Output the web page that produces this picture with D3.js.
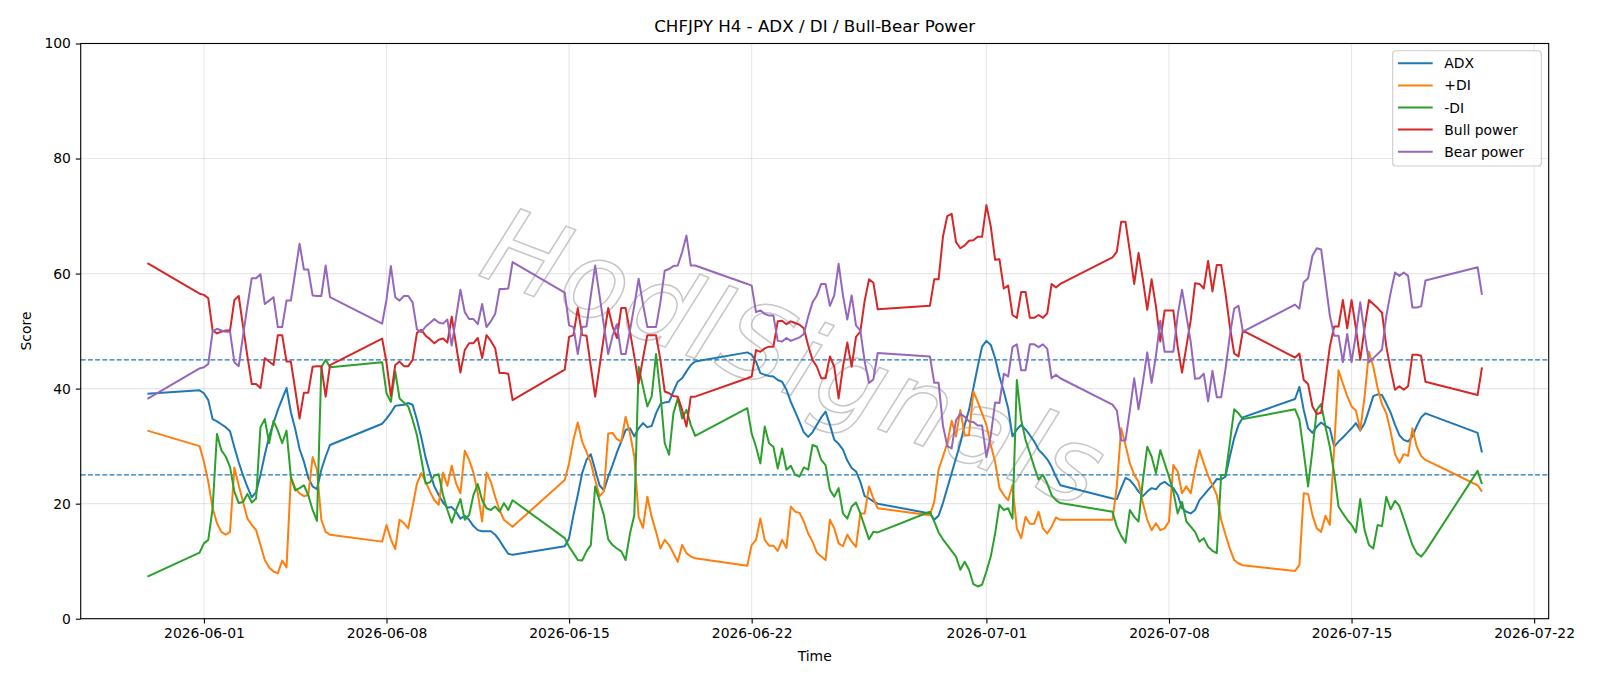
<!DOCTYPE html>
<html><head><meta charset="utf-8">
<script src="https://cdn.jsdelivr.net/npm/d3@7"></script>
<style>body{margin:0;background:#fff}svg{display:block;font-family:"DejaVu Sans",sans-serif}</style>
</head><body>
<svg id="c" width="1600" height="686"></svg>
<script>
// H4 bar times (UTC), Sunday 20:00 opens each trading week
const times = [
 "05-29 20",
 "05-31 20","06-01 00","06-01 04","06-01 08","06-01 12","06-01 16","06-01 20","06-02 00","06-02 04","06-02 08","06-02 12","06-02 16","06-02 20","06-03 00","06-03 04","06-03 08","06-03 12","06-03 16","06-03 20","06-04 00","06-04 04","06-04 08","06-04 12","06-04 16","06-04 20","06-05 00","06-05 04","06-05 08","06-05 12","06-05 16","06-05 20",
 "06-07 20","06-08 00","06-08 04","06-08 08","06-08 12","06-08 16","06-08 20","06-09 00","06-09 04","06-09 08","06-09 12","06-09 16","06-09 20","06-10 00","06-10 04","06-10 08","06-10 12","06-10 16","06-10 20","06-11 00","06-11 04","06-11 08","06-11 12","06-11 16","06-11 20","06-12 00","06-12 04","06-12 08","06-12 12","06-12 16","06-12 20",
 "06-14 20","06-15 00","06-15 04","06-15 08","06-15 12","06-15 16","06-15 20","06-16 00","06-16 04","06-16 08","06-16 12","06-16 16","06-16 20","06-17 00","06-17 04","06-17 08","06-17 12","06-17 16","06-17 20","06-18 00","06-18 04","06-18 08","06-18 12","06-18 16","06-18 20","06-19 00","06-19 04","06-19 08","06-19 12","06-19 16","06-19 20",
 "06-21 20","06-22 00","06-22 04","06-22 08","06-22 12","06-22 16","06-22 20","06-23 00","06-23 04","06-23 08","06-23 12","06-23 16","06-23 20","06-24 00","06-24 04","06-24 08","06-24 12","06-24 16","06-24 20","06-25 00","06-25 04","06-25 08","06-25 12","06-25 16","06-25 20","06-26 00","06-26 04","06-26 08","06-26 12","06-26 16","06-26 20",
 "06-28 20","06-29 00","06-29 04","06-29 08","06-29 12","06-29 16","06-29 20","06-30 00","06-30 04","06-30 08","06-30 12","06-30 16","06-30 20","07-01 00","07-01 04","07-01 08","07-01 12","07-01 16","07-01 20","07-02 00","07-02 04","07-02 08","07-02 12","07-02 16","07-02 20","07-03 00","07-03 04","07-03 08","07-03 12","07-03 16","07-03 20",
 "07-05 20","07-06 00","07-06 04","07-06 08","07-06 12","07-06 16","07-06 20","07-07 00","07-07 04","07-07 08","07-07 12","07-07 16","07-07 20","07-08 00","07-08 04","07-08 08","07-08 12","07-08 16","07-08 20","07-09 00","07-09 04","07-09 08","07-09 12","07-09 16","07-09 20","07-10 00","07-10 04","07-10 08","07-10 12","07-10 16","07-10 20",
 "07-12 20","07-13 00","07-13 04","07-13 08","07-13 12","07-13 16","07-13 20","07-14 00","07-14 04","07-14 08","07-14 12","07-14 16","07-14 20","07-15 00","07-15 04","07-15 08","07-15 12","07-15 16","07-15 20","07-16 00","07-16 04","07-16 08","07-16 12","07-16 16","07-16 20","07-17 00","07-17 04","07-17 08","07-17 12","07-17 16","07-17 20",
 "07-19 20","07-20 00"
];

const adx = [
 39.1,
 39.7, 39.2,38.0,34.7,34.3,33.8,33.3, 32.6,29.8,27.2,24.9,22.9,21.1, 22.0,25.0,28.5,31.7,34.0,36.3, 38.2,40.1,35.9,33.0,29.5,27.3, 24.5,23.0,22.5,25.9,28.2,30.2,
 33.9, 34.8,35.8,37.0,37.1,37.2,37.5, 37.2,34.6,31.5,28.0,25.3,23.0, 21.5,20.2,19.3,19.4,18.6,17.4, 17.9,17.2,16.1,15.4,15.2,15.2, 15.2,14.6,13.6,12.4,11.3,11.1,
 12.6, 14.0,18.0,21.5,25.3,27.6,28.6, 25.9,23.2,22.3,24.7,26.7,28.9, 30.8,32.8,33.1,31.7,33.1,34.0, 33.3,33.5,35.7,37.3,37.6,37.7, 39.5,41.2,41.8,43.0,44.1,44.7,
 46.3, 45.9,44.7,42.7,42.4,42.2,42.1, 41.5,41.2,39.8,37.7,36.0,34.2, 32.4,31.6,32.4,33.7,35.0,36.0, 33.7,31.1,30.4,29.4,27.5,26.2, 25.6,23.8,21.3,20.9,20.4,20.0,
 18.3, 17.2,17.9,20.1,22.7,25.3,27.9, 30.5,33.7,36.3,40.1,43.8,47.3, 48.3,47.6,45.3,42.1,39.5,36.6, 31.7,32.9,33.7,32.9,31.9,30.8, 29.4,28.6,27.7,26.4,24.7,23.2,
 20.9, 20.8,22.7,24.5,24.1,23.2,22.1, 21.3,22.1,22.7,22.5,23.4,23.8, 23.2,22.7,21.5,19.2,18.6,18.3, 18.9,20.6,21.5,22.4,23.2,24.3, 24.2,24.7,28.2,31.4,33.7,35.0,
 38.2, 40.3,36.3,33.1,32.3,33.4,34.1, 33.5,33.1,29.9,30.8,31.5,32.3, 33.1,34.0,32.7,34.0,36.3,38.7, 39.0,38.9,37.4,35.8,33.7,31.9, 31.1,30.8,31.7,33.5,35.0,35.7,
 32.3, 28.9
];

const plusDI = [
 32.7,
 30.0, 27.3,23.8,19.2,16.6,15.1,14.6, 15.1,26.3,23.2,20.3,17.4,16.3, 15.4,12.8,10.2,8.9,8.2,7.9, 10.1,8.9,24.6,22.7,21.8,21.3, 21.5,28.1,25.9,17.2,15.1,14.6,
 13.4, 16.3,13.8,12.1,17.2,16.6,15.7, 19.5,23.5,25.3,23.8,22.1,20.6, 19.8,25.4,23.1,26.6,23.5,21.8, 29.2,27.6,25.4,21.8,16.9,25.4, 23.8,21.2,18.9,17.2,16.6,16.0,
 24.1, 27.0,31.1,34.1,30.8,29.0,27.1, 24.1,21.3,22.1,32.2,32.3,31.2, 30.8,35.1,32.2,28.2,17.7,15.8, 21.2,17.7,15.1,12.2,13.7,12.8, 11.4,9.9,12.8,11.4,10.8,10.5,
 9.2, 12.8,13.7,17.4,13.7,12.7,12.7, 11.8,13.7,12.3,19.5,18.6,18.4, 16.9,14.8,13.4,11.5,10.8,10.2, 17.2,15.7,13.1,12.6,14.6,13.4, 12.5,18.3,18.3,23.0,20.9,19.2,
 18.0, 20.3,25.9,28.2,30.5,34.4,31.7, 36.3,31.9,31.9,39.5,37.7,35.7, 33.7,30.2,27.3,22.7,21.5,20.6, 23.2,15.7,14.0,17.7,16.5,16.5, 18.6,15.7,14.8,16.0,17.6,17.2,
 17.2, 23.0,33.1,30.2,27.0,25.0,23.8, 20.1,17.2,15.4,16.6,15.4,15.7, 16.9,26.7,25.6,21.8,23.0,21.8, 25.9,29.3,27.0,24.8,23.2,21.5, 17.2,14.6,12.2,10.2,9.6,9.3,
 8.3, 9.3,21.8,21.7,18.0,15.7,15.1, 17.9,16.3,29.8,43.2,40.9,38.7, 36.9,36.2,32.8,38.6,46.4,43.8, 40.1,37.3,35.7,32.5,28.6,27.1, 28.6,28.3,33.1,29.9,28.3,27.6,
 23.2, 22.1
];

const minusDI = [
 7.3,
 11.5, 13.1,13.7,19.2,32.1,29.3,28.2, 26.4,22.1,20.1,20.3,21.7,20.2, 20.9,33.3,34.7,30.5,34.4,32.7, 30.5,32.7,24.6,22.3,22.7,23.2, 21.5,18.9,17.0,43.7,45.0,43.7,
 44.6, 39.2,37.7,43.0,38.3,37.6,36.9, 34.6,31.9,27.8,23.5,23.7,24.9, 25.1,21.5,18.9,16.7,18.9,20.8, 17.2,18.0,21.5,23.4,20.6,19.2, 18.9,19.5,18.6,20.1,18.9,20.6,
 14.0, 12.5,11.4,10.2,10.1,11.7,12.8, 23.0,20.5,18.0,13.8,12.8,12.2, 11.7,10.2,14.8,18.0,43.8,40.3, 36.9,38.6,46.0,39.2,30.5,28.5, 35.7,38.3,34.8,36.3,33.7,31.8,
 36.6, 32.2,29.9,27.0,33.4,30.5,29.9, 26.1,29.6,25.9,26.6,25.0,24.7, 26.3,25.9,30.2,29.9,27.6,26.7, 22.4,21.2,22.7,18.3,17.4,19.5, 20.2,18.3,16.0,13.8,15.1,15.0,
 18.6, 16.9,15.0,13.8,12.8,11.8,10.8, 8.5,9.9,8.5,6.0,5.6,5.9, 8.2,10.8,14.8,19.8,18.9,19.2, 17.4,41.5,34.6,31.1,28.8,26.4, 24.2,25.0,23.5,21.5,20.6,20.1,
 18.6, 16.0,14.4,13.2,18.9,17.7,16.9, 24.1,29.9,28.2,25.3,29.3,27.0, 24.7,22.1,18.3,20.3,16.9,16.0, 15.1,13.4,14.0,12.5,11.8,11.4, 25.0,25.0,30.6,36.4,35.7,34.7,
 36.4, 34.6,28.9,23.0,29.3,36.3,37.3, 33.4,29.9,25.3,19.5,18.3,17.2, 16.3,15.0,20.8,15.4,12.8,12.2, 16.3,16.1,21.2,19.0,20.5,19.6, 17.4,15.1,12.8,11.4,10.8,11.7,
 25.7, 23.4
];

const bullPower = [
 61.8,
 56.5, 56.3,55.7,50.1,49.6,49.9,50.1, 50.1,55.4,56.1,50.8,45.6,40.8, 40.8,40.1,45.3,44.7,44.1,49.3, 49.3,44.7,44.7,39.8,34.8,39.3, 39.3,43.8,43.9,43.9,38.6,44.1,
 48.7, 44.5,38.7,44.1,44.7,43.9,43.9, 45.0,49.7,50.2,49.2,48.6,47.9, 48.5,48.7,48.0,52.5,47.6,42.8, 46.7,47.9,47.9,48.8,45.3,49.3, 48.3,47.0,42.7,42.7,42.6,38.0,
 43.3, 49.0,49.3,54.0,49.3,49.2,43.8, 38.6,43.8,49.0,54.0,50.8,48.8, 54.0,54.0,49.9,45.6,40.9,45.3, 49.3,49.3,49.3,45.0,39.5,39.2, 38.7,38.6,36.3,33.4,38.6,38.6,
 41.8, 42.1,46.7,46.4,47.0,47.3,47.3, 51.7,51.8,51.2,51.7,51.4,51.1, 50.5,47.5,45.0,43.8,41.8,41.8, 45.6,43.8,38.3,43.8,48.0,43.8, 49.0,49.9,55.3,59.0,58.4,53.8,
 54.4, 59.0,59.0,66.4,70.0,70.4,65.5, 64.4,64.9,65.7,65.8,66.4,66.4, 71.9,68.2,62.4,62.5,57.4,57.9, 52.8,52.3,56.8,56.8,52.3,52.3, 52.8,52.3,53.1,58.2,57.6,58.2,
 62.8, 63.8,69.0,69.0,63.8,58.2,63.6, 58.9,53.7,59.0,54.3,48.2,53.6, 53.6,53.6,47.3,42.8,47.3,51.9, 58.3,58.2,57.4,62.2,56.9,61.5, 61.5,56.6,50.8,46.1,45.6,50.1,
 45.4, 46.1,41.5,40.8,36.9,35.6,35.8, 41.5,47.3,50.8,50.8,55.4,50.5, 55.4,50.5,45.0,50.5,55.4,54.7, 54.0,53.2,47.3,43.3,39.8,40.4, 39.8,40.4,45.9,45.9,45.7,41.2,
 38.9, 43.7
];

const bearPower = [
 38.2,
 43.5, 43.7,44.3,49.9,50.4,50.1,49.9, 49.9,44.6,43.9,49.2,54.4,59.2, 59.2,59.9,54.7,55.3,55.9,50.7, 50.7,55.3,55.3,60.2,65.2,60.7, 60.7,56.2,56.1,56.1,61.4,55.9,
 51.3, 55.5,61.3,55.9,55.3,56.1,56.1, 55.0,50.3,49.8,50.8,51.4,52.1, 51.5,51.3,52.0,47.5,52.4,57.2, 53.3,52.1,52.1,51.2,54.7,50.7, 51.7,53.0,57.3,57.3,57.4,62.0,
 56.7, 51.0,50.7,46.0,50.7,50.8,56.2, 61.4,56.2,51.0,46.0,49.2,51.2, 46.0,46.0,50.1,54.4,59.1,54.7, 50.7,50.7,50.7,55.0,60.5,60.8, 61.3,61.4,63.7,66.6,61.4,61.4,
 58.2, 57.9,53.3,53.6,53.0,52.7,52.7, 48.3,48.2,48.8,48.3,48.6,48.9, 49.5,52.5,55.0,56.2,58.2,58.2, 54.4,56.2,61.7,56.2,52.0,56.2, 51.0,50.1,44.7,41.0,41.6,46.2,
 45.6, 41.0,41.0,33.6,30.0,29.6,34.5, 35.6,35.1,34.3,34.2,33.6,33.6, 28.1,31.8,37.6,37.5,42.6,42.1, 47.2,47.7,43.2,43.2,47.7,47.7, 47.2,47.7,46.9,41.8,42.4,41.8,
 37.2, 36.2,31.0,31.0,36.2,41.8,36.4, 41.1,46.3,41.0,45.7,51.8,46.4, 46.4,46.4,52.7,57.2,52.7,48.1, 41.7,41.8,42.6,37.8,43.1,38.5, 38.5,43.4,49.2,53.9,54.4,49.9,
 54.6, 53.9,58.5,59.2,63.1,64.4,64.2, 58.5,52.7,49.2,49.2,44.6,49.5, 44.6,49.5,55.0,49.5,44.6,45.3, 46.0,46.8,52.7,56.7,60.2,59.6, 60.2,59.6,54.1,54.1,54.3,58.8,
 61.1, 56.3
];

const seriesNames = ["ADX","+DI","-DI","Bull power","Bear power"];
const seriesColors = ["#1f77b4","#ff7f0e","#2ca02c","#d62728","#9467bd"];
const xTickLabels = ["2026-06-01","2026-06-08","2026-06-15","2026-06-22","2026-07-01","2026-07-08","2026-07-15","2026-07-22"];
const yTicks = [0,20,40,60,80,100];
const refLevels = [25,45];

const m = {left: 80.7, right: 1548.7, top: 43.5, bottom: 618.7};
const svg = d3.select("#c");
const parse = d3.utcParse("%Y-%m-%d %H");
const t = times.map(s => parse("2026-" + s));
const allSeries = [adx, plusDI, minusDI, bullPower, bearPower];

const ext = d3.extent(t);
const pad = (ext[1] - ext[0]) * 0.05;
const x = d3.scaleUtc().domain([new Date(+ext[0] - pad), new Date(+ext[1] + pad)]).range([m.left, m.right]);
const y = d3.scaleLinear().domain([0,100]).range([m.bottom, m.top]);
const tickDates = xTickLabels.map(s => d3.utcParse("%Y-%m-%d")(s));

// grid
const g = svg.append("g");
g.selectAll(".gx").data(tickDates).enter().append("line")
  .attr("x1", d => x(d)).attr("x2", d => x(d)).attr("y1", m.top).attr("y2", m.bottom)
  .attr("stroke", "#b0b0b0").attr("stroke-opacity", 0.3).attr("stroke-width", 1.1);
g.selectAll(".gy").data(yTicks).enter().append("line")
  .attr("x1", m.left).attr("x2", m.right).attr("y1", d => y(d)).attr("y2", d => y(d))
  .attr("stroke", "#b0b0b0").attr("stroke-opacity", 0.3).attr("stroke-width", 1.1);

// watermark
svg.append("text")
  .attr("transform", "translate(782,392) rotate(21)")
  .attr("text-anchor", "middle")
  .attr("font-size", 106).attr("font-style", "italic").attr("letter-spacing", 3)
  .attr("fill", "none").attr("stroke", "#a8a8a8").attr("stroke-opacity", 0.65).attr("stroke-width", 1.5)
  .text("HodlSignals");

// reference levels
svg.selectAll(".ref").data(refLevels).enter().append("line")
  .attr("x1", m.left).attr("x2", m.right).attr("y1", d => y(d)).attr("y2", d => y(d))
  .attr("stroke", "#1f77b4").attr("stroke-width", 1.3).attr("stroke-dasharray", "5,2.2");

// lines
svg.append("clipPath").attr("id","clp").append("rect")
  .attr("x", m.left).attr("y", m.top).attr("width", m.right - m.left).attr("height", m.bottom - m.top);
const line = d3.line().x((d,i) => x(t[i])).y(d => y(d));
allSeries.forEach((s, k) => {
  svg.append("path").datum(s).attr("d", line)
    .attr("fill", "none").attr("stroke", seriesColors[k]).attr("stroke-width", 2)
    .attr("stroke-linejoin", "round").attr("stroke-linecap", "butt")
    .attr("clip-path", "url(#clp)");
});

// axes
const xAxis = d3.axisBottom(x).tickValues(tickDates).tickFormat(d3.utcFormat("%Y-%m-%d")).tickSize(4.9).tickPadding(4.9);
const yAxis = d3.axisLeft(y).tickValues(yTicks).tickSize(4.9).tickPadding(4.9);
const gx = svg.append("g").attr("transform", `translate(0,${m.bottom})`).call(xAxis);
const gy = svg.append("g").attr("transform", `translate(${m.left},0)`).call(yAxis);
[gx, gy].forEach(a => {
  a.select(".domain").remove();
  a.selectAll("line").attr("stroke", "#000").attr("stroke-width", 1.1);
  a.selectAll("text").attr("font-family", "DejaVu Sans").attr("font-size", 13.9).attr("fill", "#000");
});
gx.selectAll("text").attr("dy", "0.72em");
svg.append("rect").attr("x", m.left).attr("y", m.top).attr("width", m.right - m.left).attr("height", m.bottom - m.top)
  .attr("fill", "none").attr("stroke", "#000").attr("stroke-width", 1.1);

// titles
svg.append("text").attr("x", (m.left + m.right) / 2).attr("y", 31.5).attr("text-anchor", "middle")
  .attr("font-size", 16.7).text("CHFJPY H4 - ADX / DI / Bull-Bear Power");
svg.append("text").attr("x", (m.left + m.right) / 2).attr("y", 661).attr("text-anchor", "middle")
  .attr("font-size", 13.9).text("Time");
svg.append("text").attr("transform", "translate(30.5,331) rotate(-90)").attr("text-anchor", "middle")
  .attr("font-size", 13.9).text("Score");

// legend
const lg = svg.append("g");
lg.append("rect").attr("x", 1392.7).attr("y", 50.7).attr("width", 148.6).attr("height", 115.3)
  .attr("rx", 3).attr("fill", "#fff").attr("fill-opacity", 0.8).attr("stroke", "#cccccc").attr("stroke-width", 1.1);
seriesNames.forEach((n, i) => {
  const yy = 63.3 + i * 22.1;
  lg.append("line").attr("x1", 1398).attr("x2", 1432.7).attr("y1", yy).attr("y2", yy)
    .attr("stroke", seriesColors[i]).attr("stroke-width", 2);
  lg.append("text").attr("x", 1444.3).attr("y", yy + 5).attr("font-size", 13.9).text(n);
});
</script>
</body></html>
